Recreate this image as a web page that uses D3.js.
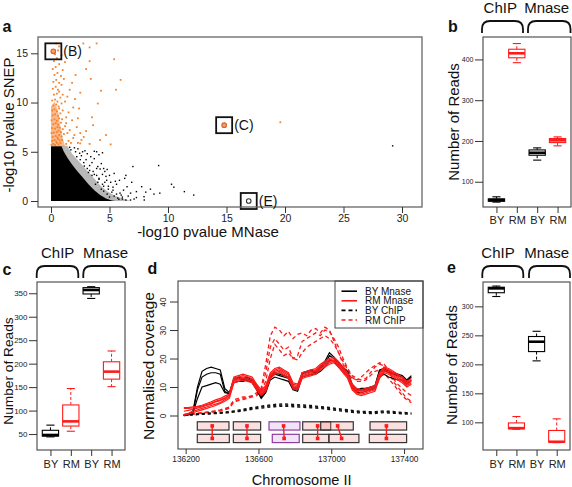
<!DOCTYPE html>
<html><head><meta charset="utf-8">
<script src="https://cdn.jsdelivr.net/npm/d3@7"></script>
<style>body{margin:0;background:#fff}svg{display:block}</style>
</head><body><svg id="c" width="572" height="487"></svg>
<script>
// ---------------- DATA ----------------
// Panel a: scatter (-log10 p MNase vs -log10 p SNEP)
const aXTicks = [0,5,10,15,20,25,30];
const aYTicks = [0,5,10,15];
const mnaseCoreFringe = [[0,0],[0,5.6],[1.4,5.6],[1.8,4.8],[2.4,4.0],[3.0,3.2],[3.6,2.4],[4.2,1.6],[4.8,1.0],[5.5,0.5],[6.3,0.2],[6.8,0]];
const mnaseCore = [[0,0],[0,5.55],[0.9,5.55],[1.1,5.0],[1.4,4.4],[1.8,3.7],[2.2,3.1],[2.7,2.4],[3.2,1.7],[3.7,1.1],[4.2,0.6],[4.7,0.25],[5.2,0.05],[5.5,0]];
const snepCore = [[0,5.55],[0,9.6],[0.3,10.1],[0.6,9.2],[0.8,7.6],[1.0,6.4],[1.2,5.55]];
const blackPts = [[29.2,5.6],[12.2,0.6],[11.4,0.95],[10.5,1.4],[10.3,1.7],[9.3,0.8],[9.2,3.6],[8.8,0.7],[8.5,1.2],[7.95,0.44],[7.97,0.1],[7.75,1.45],[7.3,0.95],[7.3,0.35],[7.0,3.5],[6.8,0.1],[6.8,0.8],[6.5,1.45],[6.4,2.6],[6.3,2.3],[6.1,0.4],[5.85,2.1],[5.8,0.17],[5.6,1.7],[5.5,2.0],[5.1,1.9],[4.8,3.2],[4.76,2.1],[4.5,1.5],[4.5,3.3],[4.4,4.9],[4.3,3.8],[4.2,3.25],[3.9,5.0],[3.7,5.05],[3.7,4.3],[4.1,4.7],[2.7,5.0],[3.0,4.2],[3.3,3.6],[3.6,3.0],[3.9,2.6],[4.1,2.2],[4.6,1.9],[4.9,1.2],[5.2,0.9],[5.4,0.5],[5.9,0.8],[6.2,1.1],[5.0,2.6],[4.4,2.7],[3.4,4.5],[2.9,5.1],[2.3,5.3],[2.6,4.6],[2.0,5.4],[1.7,5.2],[2.2,4.5],[3.2,2.9],[3.8,1.7],[4.3,1.2],[4.8,0.7],[5.7,0.3],[6.0,0.6],[6.6,0.5],[7.1,0.2],[5.3,1.4],[4.7,2.5],[3.5,3.9],[2.8,3.9],[3.1,3.3],[3.5,2.6],[4.0,1.9],[4.5,1.0],[5.0,0.4],[8.1,0.9],[6.9,1.9],[5.4,2.8],[4.0,3.5],[3.1,4.8],[2.45,4.85],[2.1,5.0],[1.6,5.45],[2.5,4.2],[2.85,3.55],[3.3,3.1],[3.7,2.7],[4.1,2.3],[4.4,1.7],[4.9,1.5],[5.3,1.1],[5.6,0.7],[6.1,0.2],[6.4,0.1],[4.6,3.0],[3.9,3.3]];
const orangePts = [[0.05,5.7],[0.2,5.8],[0.35,5.7],[0.5,5.9],[0.65,5.75],[0.8,5.9],[0.1,6.1],[0.3,6.2],[0.45,6.05],[0.6,6.3],[0.75,6.15],[0.95,6.2],[0.15,6.5],[0.4,6.6],[0.55,6.45],[0.7,6.7],[0.9,6.55],[0.05,6.9],[0.25,6.95],[0.5,7.0],[0.65,7.15],[0.85,7.0],[1.1,6.8],[0.1,7.4],[0.35,7.35],[0.55,7.5],[0.75,7.45],[1.0,7.3],[0.2,7.8],[0.4,7.9],[0.6,7.75],[0.85,7.95],[1.2,7.6],[0.05,8.2],[0.3,8.3],[0.5,8.15],[0.7,8.4],[0.95,8.3],[0.15,8.7],[0.35,8.8],[0.6,8.65],[0.8,8.9],[1.3,8.5],[0.1,9.2],[0.3,9.3],[0.5,9.1],[0.7,9.4],[1.0,9.2],[0.2,9.7],[0.45,9.8],[0.65,9.6],[0.9,9.9],[0.1,10.2],[0.35,10.3],[0.55,10.1],[0.8,10.5],[1.2,10.1],[0.25,10.8],[0.5,10.9],[0.7,11.1],[1.0,10.8],[0.15,11.4],[0.4,11.6],[0.6,11.3],[0.9,11.8],[0.2,12.1],[0.45,12.3],[0.7,12.0],[1.1,12.4],[0.3,12.8],[0.55,13.0],[0.85,12.7],[0.15,13.4],[0.4,13.6],[0.7,13.9],[1.0,13.3],[0.25,14.2],[0.5,14.5],[0.35,14.9],[0.6,15.3],[0.9,14.8],[0.45,16.0],[1.3,5.8],[1.5,6.1],[1.7,5.9],[1.9,6.4],[1.4,6.9],[1.6,7.2],[2.0,6.7],[1.3,7.9],[1.8,8.2],[1.5,9.0],[1.9,9.5],[2.05,10.35],[1.4,10.6],[1.6,11.3],[2.2,7.5],[2.5,6.9],[2.6,6.2],[2.3,5.9],[3.3,5.8],[2.8,6.5],[3.0,7.1],[2.76,16.0],[3.9,16.0],[3.3,15.6],[5.4,14.4],[3.3,14.2],[3.0,13.4],[3.4,12.4],[5.95,12.3],[5.55,11.3],[4.27,11.2],[4.0,9.9],[3.6,7.7],[4.7,6.7],[5.1,5.75],[2.3,8.4],[1.2,14.1],[0.7,15.7],[19.6,8.0],[2.1,12.8],[2.5,11.0],[3.5,8.5],[4.2,6.2],[1.8,12.0],[2.4,9.4],[2.5,5.85]];
const highlights = [{name:"(B)", x:0.2, y:15.2, snep:true},{name:"(C)", x:14.8, y:7.7, snep:true},{name:"(E)", x:16.9, y:0, snep:false}];

// Panels b, c, e: box plots  [lower whisker, Q1, median, Q3, upper whisker]
const categories = ["BY","RM","BY","RM"];
const assays = ["ChIP","Mnase"];
const boxB = [[50,52,55,58,63],[392,404,415,425,439],[153,165,171,178,183],[188,196,201.5,206,210]];
const boxC = [[44,45.5,48,58,69],[56,67,77,112,147],[339,348.5,357,362,364],[151,167,183,204,227]];
const boxE = [[317,323.5,331,333,335],[88,89,90,99,110],[206,222,239,248,257],[65,66,66.5,86,106]];
const ticksB = [100,200,300,400];
const ticksC = [50,100,150,200,250,300,350];
const ticksE = [100,150,200,250,300];

// Panel d: coverage along chromosome II
const dXTicks = [136200,136600,137000,137400];
const dYTicks = [0,10,20,30,40];
const chrPos = [136190,136215,136240,136265,136290,136315,136340,136365,136390,136415,136440,136465,136490,136515,136540,136565,136590,136615,136640,136665,136690,136715,136740,136765,136790,136815,136840,136865,136890,136915,136940,136965,136990,137015,137040,137065,137090,137115,137140,137165,137190,137215,137240,137265,137290,137315,137340,137365,137390,137415,137440];
const byMnase = [
 [0.3,0.5,1.5,10,15.5,16.5,17,16.5,16,9.5,8,13,13.5,13,13.5,12.5,10.5,7,9,14,15,14.5,14,13.5,10,9.5,15,15.5,16,15.5,17,19,22,20.5,18.5,17,15.5,11,9,9.5,9.5,10,10.5,16,16.5,15.5,15,14.5,14,12.5,14],
 [0,0.3,1,9,13.5,14.5,15,15,14.5,8.5,7.5,12.5,13,12.5,13,12,10,6.5,8.5,13.5,14.5,14,13.5,13,9.5,9,14.5,15,15.5,15,16.5,18,21,20,18,16.5,15,10,8.5,9,9,9.5,10,15.5,16,15,14.5,14,13.5,12,13.5],
 [0.1,0.2,0.8,6,10,10.5,11,11.5,11,8,7.8,11.5,12,12,12.5,11.5,9,6,8,12.5,13.5,13,12.5,12,9,8.5,13.5,14,14.5,14.5,15.5,17,19.5,19,17,15.5,14,9.5,8,8,8.5,9,9.5,13.5,14.5,13.5,13,12.5,12.5,11,12.5]
];
const rmMnase = [
 [2.8,2.8,3,3.2,3.6,4.2,4.8,5.5,6,6.8,7.5,13,13.5,14,13.5,13,10.5,8.5,10,14.5,16,16.5,15.5,14.5,11,10.5,14.5,15,15.5,16,17.5,18.5,19.5,20,18.5,16.5,14.5,10.5,9,8.5,9,9.5,10,14.5,16.5,16,15,14,13,11.5,12.5],
 [2.5,2.5,2.7,3,3.3,3.8,4.3,5,5.5,6.2,7,12.5,13,13.5,13,12.5,10,8,9.5,14,15.5,16,15,14,10.5,10,14,14.5,15,15.5,17,18,19,19.5,18,16,14,10,8.5,8,8.5,9,9.5,14,16,15.5,14.5,13.5,12.5,11,12],
 [0.3,0.8,1.5,2,2.5,3,3.5,4,4.5,5.5,6.5,12,12.5,13,12.5,12,9.5,7.5,9,13.5,15,15.5,14.5,13.5,10,9.5,13.5,14,14.5,15,16.5,17.5,18.5,19,17.5,15.5,13.5,9.5,8,7.5,8,8.5,9,13.5,15.5,15,14,13,12,10.5,11.5],
 [0,0.5,1,1.5,2,2.5,3,3.5,4.2,5,6,11.5,12,12.5,12,11.5,9,7,8.5,13,14.5,15,14,13,9.5,9,13,13.5,14,14.5,16,17,18,18.5,17,15,13,9,7.5,7,7.5,8,8.5,13,15,14.5,13.5,12.5,11.5,10,11],
 [1.5,1.8,2.2,2.6,3,3.5,4,4.8,5.2,6,7.2,13.5,14,14.5,14,13.5,11,9,10.5,15,16.5,17,16,15,11.5,11,15,15.5,16,16.5,18,19,20,20.5,19,17,15,11,9.5,9,9.5,10,10.5,15,17,16.5,15.5,14.5,13.5,12,13]
];
const byChip = [
 [0.3,0.4,0.5,0.6,0.7,0.8,0.9,1,1.1,1.2,1.4,1.6,1.9,2.2,2.5,2.8,3,3.3,3.5,3.7,3.9,4,4.1,4,3.9,3.8,3.7,3.6,3.5,3.3,3.1,3,2.8,2.6,2.4,2.2,2,1.8,1.6,1.5,1.4,1.3,1.3,1.5,1.6,1.5,1.4,1.2,1.1,1,0.9],
 [0.1,0.2,0.3,0.4,0.5,0.6,0.7,0.8,0.9,1,1.2,1.4,1.6,1.9,2.2,2.5,2.7,3,3.2,3.4,3.5,3.6,3.7,3.6,3.5,3.4,3.3,3.2,3.1,3,2.8,2.7,2.5,2.3,2.1,1.9,1.7,1.5,1.3,1.2,1.1,1,1,1.2,1.3,1.2,1.1,1,0.9,0.8,0.7],
 [0,0.1,0.2,0.3,0.4,0.5,0.6,0.7,0.8,0.9,1,1.2,1.4,1.6,1.9,2.2,2.4,2.6,2.8,3,3.1,3.2,3.3,3.2,3.1,3,2.9,2.8,2.7,2.6,2.5,2.3,2.1,1.9,1.7,1.5,1.3,1.1,1,0.9,0.8,0.7,0.7,0.9,1,0.9,0.8,0.7,0.6,0.5,0.4]
];
const rmChip = [
 [0.2,0.4,0.6,0.8,1,1.2,1.4,1.6,2,2.5,3,5.5,6,6.5,6.5,7,8,9.5,18,28,31,30,28,29.5,27,28.5,29,28,30,30.5,29,31,30,26,22,18,15,13,12.5,13.5,15,16.5,17.5,18.5,18,16,12,10,8,6,5],
 [0,0.2,0.4,0.6,0.9,1.1,1.3,1.5,1.8,2.2,2.8,5,5.5,6,6.2,6.8,7.5,9,15,24,27,25,23,24,20,21,26,27,28,29,28,30,29.5,27,24,20,16.5,14,13,12.5,13,15,17,18,17.5,15.5,13,11,9.5,8,7],
 [0.1,0.3,0.5,0.7,0.8,1,1.2,1.4,1.6,2,2.5,4.8,5.2,5.6,6,6.5,7,8.5,12,20,25,23,21,22,20,19.5,22,24,25,26,27,28,27,25,22,19,16,13.5,12,12,12.5,14,15.5,16,15,13,11,9,7,5.5,4.5]
];
const legendLabels = ["BY Mnase","RM Mnase","BY ChIP","RM ChIP"];
const nucRow1 = [[136264,136438],[136462,136612],[136658,136828],[136843,136997],[136942,137121],[137213,137414]];
const nucRow2 = [[136264,136440],[136462,136612],[136676,136824],[136843,136987],[136987,137152],[137209,137414]];
const nucShift = [[136346,136346],[136537,136537],[136738,136741],[136925,136925],[137035,137057],[137303,137303]];
const nucHighlight = [2];

// ---------------- DRAWING ----------------
const FONT = "'Liberation Sans', Arial, sans-serif";
const svg = d3.select("#c");
const RED = "#ff1a1a", ORANGE = "#f5822e";

function styleAxis(g, size){
  g.select(".domain").remove();
  g.attr("font-family", FONT).attr("font-size", size);
  g.selectAll("line").attr("stroke","#333");
  g.selectAll("text").attr("fill","#222");
}
function rotLabel(x, y, text, size, len){
  const t = svg.append("text").attr("transform",`translate(${x},${y}) rotate(-90)`)
    .attr("text-anchor","middle").attr("font-size",size).attr("font-family",FONT).attr("fill","#111").text(text);
  if (len) t.attr("textLength",len).attr("lengthAdjust","spacingAndGlyphs");
}
function txt(x, y, text, size, opts={}){
  return svg.append("text").attr("x",x).attr("y",y).attr("font-size",size).attr("font-family",FONT)
    .attr("font-weight",opts.bold?"bold":null).attr("text-anchor",opts.anchor||"start").attr("fill","#111").text(text);
}

// ---- Panel a ----
{
  const x = d3.scaleLinear().domain([0,30]).range([51,402]);
  const y = d3.scaleLinear().domain([0,15]).range([201,53.3]);
  const g = svg.append("g");
  const area = d3.line().x(d=>x(d[0])).y(d=>y(d[1]));
  g.append("path").attr("d", area(mnaseCoreFringe)+"Z").attr("fill","#000").attr("opacity",0.28);
  g.append("path").attr("d", area(mnaseCore)+"Z").attr("fill","#000");
  g.append("path").attr("d", area(snepCore)+"Z").attr("fill",ORANGE).attr("opacity",0.55);
  g.selectAll(".bp").data(blackPts).join("rect").attr("x",d=>x(d[0])-0.7).attr("y",d=>y(d[1])-0.7)
    .attr("width",1.4).attr("height",1.4).attr("fill","#000");
  g.selectAll(".op").data(orangePts).join("rect").attr("x",d=>x(d[0])-0.9).attr("y",d=>y(d[1])-0.9)
    .attr("width",1.8).attr("height",1.8).attr("fill",ORANGE);
  highlights.forEach(h=>{
    const cx = x(h.x), cy = y(h.y);
    g.append("circle").attr("cx",cx).attr("cy",cy).attr("r",2.3)
      .attr("fill",h.snep?"#f8a060":"none").attr("stroke",h.snep?"#d8602a":"#333").attr("stroke-width",1.1);
    g.append("rect").attr("x",cx-8).attr("y",cy-8).attr("width",16).attr("height",16)
      .attr("fill","none").attr("stroke","#111").attr("stroke-width",1.8);
    txt(cx+10, cy+5, h.name, 14);
  });
  g.append("rect").attr("x",38).attr("y",37).attr("width",384).attr("height",170)
    .attr("fill","none").attr("stroke","#666").attr("stroke-width",1.3);
  g.append("g").attr("transform","translate(0,207)")
    .call(d3.axisBottom(x).tickValues(aXTicks).tickSize(6).tickPadding(2)).call(a=>styleAxis(a,10.5));
  g.append("g").attr("transform","translate(38,0)")
    .call(d3.axisLeft(y).tickValues(aYTicks).tickSize(7).tickPadding(3)).call(a=>styleAxis(a,10.5));
  txt(208, 237, "-log10 pvalue MNase", 15, {anchor:"middle"});
  rotLabel(13.5, 125, "-log10 pvalue SNEP", 15);
  txt(2.5, 31.7, "a", 16, {bold:true});
}

// ---- Box plot panels ----
function boxPanel(o){
  const g = svg.append("g");
  const x = d3.scaleLinear().domain([0.34,4.66]).range([o.left,o.right]);
  const y = d3.scaleLinear().domain(o.yDomain).range([o.bottom,o.top]);
  const hw = x(1.4)-x(1);
  o.stats.forEach((s,i)=>{
    const [lo,q1,med,q3,hi] = s;
    const cx = x(i+1), col = (i%2===0) ? "#000" : RED;
    g.append("line").attr("x1",cx).attr("x2",cx).attr("y1",y(q3)).attr("y2",y(hi)).attr("stroke",col).attr("stroke-dasharray","3,2");
    g.append("line").attr("x1",cx).attr("x2",cx).attr("y1",y(q1)).attr("y2",y(lo)).attr("stroke",col).attr("stroke-dasharray","3,2");
    [lo,hi].forEach(v=>g.append("line").attr("x1",cx-hw/2).attr("x2",cx+hw/2).attr("y1",y(v)).attr("y2",y(v)).attr("stroke",col).attr("stroke-width",1.1));
    g.append("rect").attr("x",cx-hw).attr("y",y(q3)).attr("width",2*hw).attr("height",Math.max(0.5,y(q1)-y(q3)))
      .attr("fill","#fff").attr("stroke",col).attr("stroke-width",1.1);
    g.append("line").attr("x1",cx-hw).attr("x2",cx+hw).attr("y1",y(med)).attr("y2",y(med)).attr("stroke",col).attr("stroke-width",2.6);
  });
  g.append("rect").attr("x",o.left).attr("y",o.top).attr("width",o.right-o.left).attr("height",o.bottom-o.top)
    .attr("fill","none").attr("stroke","#444").attr("stroke-width",1.1);
  g.append("g").attr("transform",`translate(${o.left},0)`)
    .call(d3.axisLeft(y).tickValues(o.ticks).tickSize(8).tickPadding(1.5)).call(a=>styleAxis(a,o.tickFont));
  g.append("g").attr("transform",`translate(0,${o.bottom})`)
    .call(d3.axisBottom(x).tickValues([1,2,3,4]).tickFormat(d=>categories[d-1]).tickSize(6).tickPadding(o.catPad))
    .call(a=>styleAxis(a,11));
  const yt = o.top-16, yb = o.top-4, r = 8;
  o.braces.forEach((b,i)=>{
    const x0 = b[0], x1 = b[1];
    g.append("path").attr("d",`M${x0},${yb}L${x0},${yt+r}Q${x0},${yt} ${x0+r},${yt}L${x1-r},${yt}Q${x1},${yt} ${x1},${yt+r}L${x1},${yb}`)
      .attr("fill","none").attr("stroke","#111").attr("stroke-width",1.8);
    txt(o.assayX[i], o.top-23.7, assays[i], 15, {anchor:"middle"});
  });
  txt(o.letter[1], o.letter[2], o.letter[0], 16, {bold:true});
  rotLabel(o.ylab[0], o.ylab[1], "Number of Reads", o.ylab[2]);
}
boxPanel({left:483,right:571,top:37,bottom:207,yDomain:[38,455],ticks:ticksB,stats:boxB,tickFont:7,catPad:3.5,
  braces:[[482,523],[528,570.5]],assayX:[500.3,546.7],letter:["b",448,31.7],ylab:[459,122,15]});
boxPanel({left:37,right:125,top:282,bottom:450,yDomain:[16,374],ticks:ticksC,stats:boxC,tickFont:8,catPad:4,
  braces:[[36.7,78.3],[83.3,126]],assayX:[57.7,105.5],letter:["c",2.5,275],ylab:[13.3,371,13.7]});
boxPanel({left:483,right:570,top:282,bottom:450,yDomain:[52.3,342],ticks:ticksE,stats:boxE,tickFont:7,catPad:4,
  braces:[[482.3,523.3],[529,570]],assayX:[498,546.7],letter:["e",447,273],ylab:[456.7,365,15.3]});

// ---- Panel d ----
{
  const x = d3.scaleLinear().domain([136158,137504]).range([178,423]);
  const y = d3.scaleLinear().domain([-11.75,47.2]).range([449,281]);
  const g = svg.append("g");
  const line = d3.line().x((d,i)=>x(chrPos[i])).y(d=>y(d));
  rmChip.forEach(s=>g.append("path").attr("d",line(s)).attr("fill","none").attr("stroke",RED).attr("stroke-width",1.3).attr("stroke-dasharray","4,3"));
  byChip.forEach(s=>g.append("path").attr("d",line(s)).attr("fill","none").attr("stroke","#111").attr("stroke-width",1.4).attr("stroke-dasharray","3,3"));
  byMnase.forEach(s=>g.append("path").attr("d",line(s)).attr("fill","none").attr("stroke","#000").attr("stroke-width",1.2));
  rmMnase.forEach(s=>g.append("path").attr("d",line(s)).attr("fill","none").attr("stroke",RED).attr("stroke-width",1.2));
  const rows = [{data:nucRow1, top:-2.2, bot:-5.1},{data:nucRow2, top:-6.6, bot:-9.5}];
  rows.forEach(rw=>{
    rw.data.forEach((d,i)=>{
      const hl = nucHighlight.includes(i);
      g.append("rect").attr("x",x(d[0])).attr("y",y(rw.top)).attr("width",x(d[1])-x(d[0])).attr("height",y(rw.bot)-y(rw.top))
        .attr("fill",hl?"rgba(190,150,225,0.25)":"rgba(245,140,140,0.28)").attr("stroke",hl?"#8e3c9e":"#333").attr("stroke-width",1.2);
    });
  });
  const m1 = (rows[0].top+rows[0].bot)/2, m2 = (rows[1].top+rows[1].bot)/2;
  nucShift.forEach(s=>{
    g.append("line").attr("x1",x(s[0])).attr("x2",x(s[1])).attr("y1",y(m1)).attr("y2",y(m2)).attr("stroke",RED).attr("stroke-width",1.4);
    [[s[0],m1],[s[1],m2]].forEach(p=>g.append("rect").attr("x",x(p[0])-1.8).attr("y",y(p[1])-1.8).attr("width",3.6).attr("height",3.6).attr("fill",RED));
  });
  const lg = g.append("g");
  lg.append("rect").attr("x",335).attr("y",281).attr("width",88).attr("height",47).attr("fill","#fff").attr("stroke","#444");
  const legStyles = [["#000",null],[RED,null],["#000","4,3"],[RED,"4,3"]];
  legendLabels.forEach((l,i)=>{
    const yy = 291.2 + i*9.6;
    lg.append("line").attr("x1",341.5).attr("x2",357).attr("y1",yy).attr("y2",yy).attr("stroke",legStyles[i][0])
      .attr("stroke-width",1.6).attr("stroke-dasharray",legStyles[i][1]);
    txt(365, yy+3.6, l, 10);
  });
  g.append("rect").attr("x",178).attr("y",281).attr("width",245).attr("height",168).attr("fill","none").attr("stroke","#444").attr("stroke-width",1.1);
  g.append("g").attr("transform","translate(0,449)")
    .call(d3.axisBottom(x).tickValues(dXTicks).tickFormat(d3.format("d")).tickSize(5).tickPadding(2)).call(a=>styleAxis(a,8.3));
  const ya = g.append("g").attr("transform","translate(178,0)")
    .call(d3.axisLeft(y).tickValues(dYTicks).tickSize(8)).call(a=>styleAxis(a,8.3));
  ya.selectAll("text").attr("x",null).attr("dy",null).attr("text-anchor","middle").attr("transform","translate(-12,0) rotate(-90)");
  txt(301.7, 485, "Chromosome II", 14.6, {anchor:"middle"});
  rotLabel(154, 366, "Normalised coverage", 14, 148);
  txt(147.5, 274.3, "d", 16, {bold:true});
}
</script></body></html>
